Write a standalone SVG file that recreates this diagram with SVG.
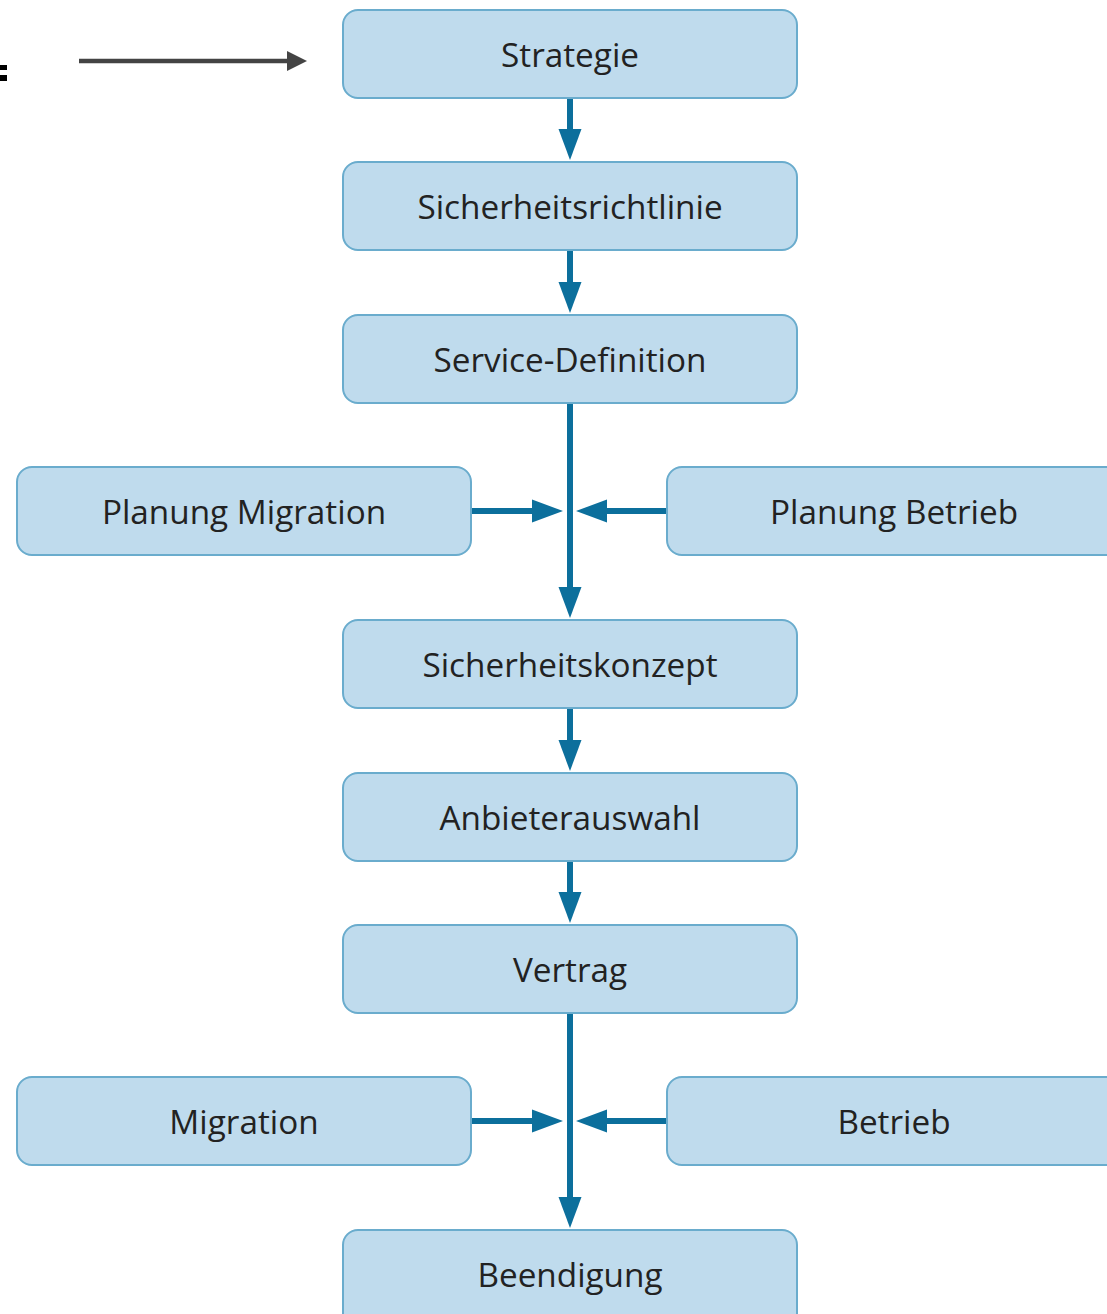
<svg xmlns="http://www.w3.org/2000/svg" width="1107" height="1314" viewBox="0 0 1107 1314">
<style>
.box{fill:#bfdbed;stroke:#6aaccd;stroke-width:2}
.lbl{font-family:"Open Sans","Noto Sans",sans-serif;font-size:33.3px;fill:#222;text-anchor:middle}
.flow{stroke:#0c6f9c;stroke-width:6;fill:none}
</style>
<defs>
<marker id="ah" markerUnits="userSpaceOnUse" markerWidth="32" markerHeight="24" viewBox="0 0 32 24" refX="16" refY="12" orient="auto">
<path d="M0,0.5 L31,12 L0,23.5 z" fill="#0c6f9c"/>
</marker>
<marker id="ahd" markerUnits="userSpaceOnUse" markerWidth="20" markerHeight="20" viewBox="0 0 20 20" refX="8" refY="10" orient="auto">
<path d="M0,0 L20,10 L0,20 z" fill="#444"/>
</marker>
</defs>
<rect x="0" y="65" width="7" height="5" fill="#000"/>
<rect x="0" y="75" width="7" height="6" fill="#000"/>
<g id="connectors">
<line x1="79" y1="61" x2="295" y2="61" stroke="#444" stroke-width="4.5" marker-end="url(#ahd)"/>
<line class="flow" x1="570" y1="98" x2="570" y2="145" marker-end="url(#ah)"/>
<line class="flow" x1="570" y1="250" x2="570" y2="298" marker-end="url(#ah)"/>
<line class="flow" x1="570" y1="403" x2="570" y2="603" marker-end="url(#ah)"/>
<line class="flow" x1="471" y1="511" x2="548" y2="511" marker-end="url(#ah)"/>
<line class="flow" x1="667" y1="511" x2="591" y2="511" marker-end="url(#ah)"/>
<line class="flow" x1="570" y1="708" x2="570" y2="756" marker-end="url(#ah)"/>
<line class="flow" x1="570" y1="861" x2="570" y2="908" marker-end="url(#ah)"/>
<line class="flow" x1="570" y1="1013" x2="570" y2="1213" marker-end="url(#ah)"/>
<line class="flow" x1="471" y1="1121" x2="548" y2="1121" marker-end="url(#ah)"/>
<line class="flow" x1="667" y1="1121" x2="591" y2="1121" marker-end="url(#ah)"/>
</g>
<g id="strategie"><rect class="box" x="343" y="10" width="454" height="88" rx="15"/><text class="lbl" x="570" y="67">Strategie</text></g>
<g id="sicherheitsrichtlinie"><rect class="box" x="343" y="162" width="454" height="88" rx="15"/><text class="lbl" x="570" y="219">Sicherheitsrichtlinie</text></g>
<g id="service-definition"><rect class="box" x="343" y="315" width="454" height="88" rx="15"/><text class="lbl" x="570" y="372">Service-Definition</text></g>
<g id="planung-migration"><rect class="box" x="17" y="467" width="454" height="88" rx="15"/><text class="lbl" x="244" y="524">Planung Migration</text></g>
<g id="planung-betrieb"><rect class="box" x="667" y="467" width="454" height="88" rx="15"/><text class="lbl" x="894" y="524">Planung Betrieb</text></g>
<g id="sicherheitskonzept"><rect class="box" x="343" y="620" width="454" height="88" rx="15"/><text class="lbl" x="570" y="677">Sicherheitskonzept</text></g>
<g id="anbieterauswahl"><rect class="box" x="343" y="773" width="454" height="88" rx="15"/><text class="lbl" x="570" y="830">Anbieterauswahl</text></g>
<g id="vertrag"><rect class="box" x="343" y="925" width="454" height="88" rx="15"/><text class="lbl" x="570" y="982">Vertrag</text></g>
<g id="migration"><rect class="box" x="17" y="1077" width="454" height="88" rx="15"/><text class="lbl" x="244" y="1134">Migration</text></g>
<g id="betrieb"><rect class="box" x="667" y="1077" width="454" height="88" rx="15"/><text class="lbl" x="894" y="1134">Betrieb</text></g>
<g id="beendigung"><rect class="box" x="343" y="1230" width="454" height="100" rx="15"/><text class="lbl" x="570" y="1287">Beendigung</text></g>
</svg>
